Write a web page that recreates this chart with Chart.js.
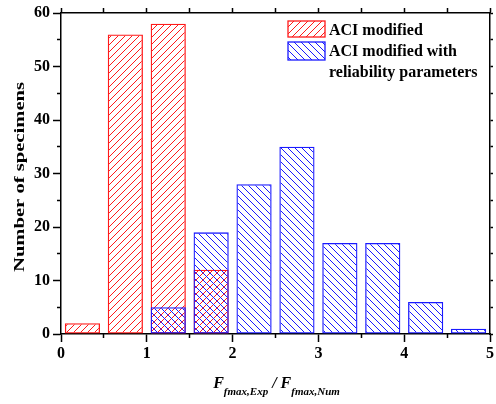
<!DOCTYPE html>
<html><head><meta charset="utf-8">
<script src="https://cdn.jsdelivr.net/npm/chart.js@4/dist/chart.umd.min.js"></script>
<style>html,body{margin:0;padding:0;background:#fff;}#wrap{width:496px;height:404px;}</style>
</head><body><div id="wrap"><canvas id="c" width="496" height="404"></canvas></div>
<script>
// ---- data ----
const binCenters = [0.25, 0.75, 1.25, 1.75, 2.25, 2.75, 3.25, 3.75, 4.25, 4.75];
const aciModified = [2, 56, 58, 12, null, null, null, null, null, null];
const aciReliability = [null, null, 5, 19, 28, 35, 17, 17, 6, 1];
const seriesNames = ['ACI modified', 'ACI modified with reliability parameters'];
const legendLines = [['ACI modified'], ['ACI modified with', 'reliability parameters']];
const xTicks = [0, 1, 2, 3, 4, 5];
const xMinorTicks = [0.5, 1.5, 2.5, 3.5, 4.5];
const xTopTicks = [0, 0.5, 1, 1.5, 2, 2.5, 3, 3.5, 4, 4.5, 5];
const yTicks = [0, 10, 20, 30, 40, 50, 60];
const yMinorTicks = [5, 15, 25, 35, 45, 55];
const yRightTicks = [0, 5, 10, 15, 20, 25, 30, 35, 40, 45, 50, 55, 60];
const yTitle = 'Number of specimens';

const SERIF = '"Liberation Serif", "Times New Roman", serif';
const RED = '#ff1a1a', BLUE = '#1a1aff';

function hatch(color, dir, p) {
  const c = document.createElement('canvas'); c.width = p; c.height = p;
  const g = c.getContext('2d'); g.strokeStyle = color; g.lineWidth = 1;
  g.beginPath();
  if (dir === '/') {
    g.moveTo(0, p); g.lineTo(p, 0);
    g.moveTo(-1, 1); g.lineTo(1, -1);
    g.moveTo(p - 1, p + 1); g.lineTo(p + 1, p - 1);
  } else {
    g.moveTo(0, 0); g.lineTo(p, p);
    g.moveTo(p - 1, -1); g.lineTo(p + 1, 1);
    g.moveTo(-1, p - 1); g.lineTo(1, p + 1);
  }
  g.stroke();
  return g.createPattern(c, 'repeat');
}
const redPat = hatch(RED, '/', 7);
const bluePat = hatch(BLUE, '\\', 7);

const toPts = arr => binCenters.map((x, i) => ({ x, y: arr[i] }));
const setTicks = list => s => { s.ticks = list.map(v => ({ value: v })); };

const tickFont = { family: SERIF, size: 16, weight: 'bold' };

const overlay = {
  id: 'overlay',
  afterDraw(chart) {
    const ctx = chart.ctx, a = chart.chartArea;
    ctx.save();
    // legend
    const bx = a.left + 227, bw = 37;
    const boxes = [{ y: a.top + 8, h: 16, pat: redPat, col: RED }, { y: a.top + 29, h: 18, pat: bluePat, col: BLUE }];
    const baselines = [[a.top + 22], [a.top + 43, a.top + 64]];
    ctx.font = 'bold 16px ' + SERIF;
    ctx.textBaseline = 'alphabetic'; ctx.textAlign = 'left';
    boxes.forEach((b, i) => {
      ctx.fillStyle = b.pat; ctx.fillRect(bx, b.y, bw, b.h);
      ctx.strokeStyle = b.col; ctx.lineWidth = 1.3; ctx.strokeRect(bx, b.y, bw, b.h);
      ctx.fillStyle = '#000';
      legendLines[i].forEach((t, j) => ctx.fillText(t, bx + bw + 4, baselines[i][j]));
    });
    // x title with subscripts
    const big = 'italic bold 16px ' + SERIF, small = 'italic bold 11px ' + SERIF;
    const parts = [['F', big, 0], ['fmax,Exp', small, 7], [' / ', big, 0], ['F', big, 0], ['fmax,Num', small, 7]];
    let total = 0;
    parts.forEach(p => { ctx.font = p[1]; p.w = ctx.measureText(p[0]).width; total += p.w; });
    let x = (a.left + a.right) / 2 + 1 - total / 2;
    const by = a.bottom + 54;
    parts.forEach(p => { ctx.font = p[1]; ctx.fillText(p[0], x, by + p[2]); x += p.w; });
    // y title
    ctx.font = 'bold 15px ' + SERIF;
    const w = ctx.measureText(yTitle).width;
    const sx = 190 / w;
    ctx.translate(20, (a.top + a.bottom) / 2 + 3.5);
    ctx.rotate(-Math.PI / 2);
    ctx.scale(sx, 1);
    ctx.textAlign = 'center'; ctx.textBaseline = 'middle';
    ctx.fillText(yTitle, 0, 0);
    ctx.restore();
  }
};

new Chart(document.getElementById('c'), {
  type: 'bar',
  data: {
    datasets: [
      { label: seriesNames[0], data: toPts(aciModified), backgroundColor: redPat, borderColor: RED, borderWidth: 1.3, order: 1 },
      { label: seriesNames[1], data: toPts(aciReliability), backgroundColor: bluePat, borderColor: BLUE, borderWidth: 1.3, order: 0 }
    ]
  },
  options: {
    responsive: false, animation: false, devicePixelRatio: 1,
    layout: { padding: 0 },
    datasets: { bar: { grouped: false, barPercentage: 0.82, categoryPercentage: 1, borderSkipped: false } },
    plugins: { legend: { display: false }, tooltip: { enabled: false }, title: { display: false } },
    scales: {
      x: {
        type: 'linear', position: 'bottom', min: 0, max: 5, offset: false,
        afterBuildTicks: setTicks(xTicks),
        ticks: { font: tickFont, color: '#000', padding: 2, autoSkip: false, maxRotation: 0 },
        grid: { display: true, drawOnChartArea: false, drawTicks: true, tickLength: 8, tickColor: '#000', tickWidth: 1.5, offset: false },
        border: { display: true, color: '#000', width: 1.5 },
        afterFit: s => { s.height = 70; }
      },
      xMinor: {
        type: 'linear', position: { y: 0 }, min: 0, max: 5, offset: false,
        afterBuildTicks: setTicks(xMinorTicks),
        ticks: { display: false },
        grid: { display: true, drawOnChartArea: false, drawTicks: true, tickLength: 4, tickColor: '#000', tickWidth: 1.5, offset: false },
        border: { display: false }
      },
      x2: {
        type: 'linear', position: 'top', min: 0, max: 5, offset: false,
        afterBuildTicks: setTicks(xTopTicks),
        ticks: { display: false },
        grid: { display: true, drawOnChartArea: false, drawTicks: true, tickLength: 5, tickColor: '#000', tickWidth: 1.5, offset: false },
        border: { display: true, color: '#000', width: 1.5 },
        afterFit: s => { s.height = 13; }
      },
      y: {
        type: 'linear', position: 'left', min: 0, max: 60,
        afterBuildTicks: setTicks(yTicks),
        ticks: { font: tickFont, color: '#000', padding: 3, autoSkip: false },
        grid: { display: true, drawOnChartArea: false, drawTicks: true, tickLength: 8, tickColor: '#000', tickWidth: 1.5 },
        border: { display: true, color: '#000', width: 1.5 },
        afterFit: s => { s.width = 61; }
      },
      yMinor: {
        type: 'linear', position: { x: 0 }, min: 0, max: 60,
        afterBuildTicks: setTicks(yMinorTicks),
        ticks: { display: false },
        grid: { display: true, drawOnChartArea: false, drawTicks: true, tickLength: 4, tickColor: '#000', tickWidth: 1.5 },
        border: { display: false }
      },
      y2: {
        type: 'linear', position: 'right', min: 0, max: 60,
        afterBuildTicks: setTicks(yRightTicks),
        ticks: { display: false },
        grid: { display: true, drawOnChartArea: false, drawTicks: true, tickLength: 3, tickColor: '#000', tickWidth: 1.5 },
        border: { display: true, color: '#000', width: 1.5 },
        afterFit: s => { s.width = 3; }
      }
    }
  },
  plugins: [overlay]
});
</script>
</body></html>
